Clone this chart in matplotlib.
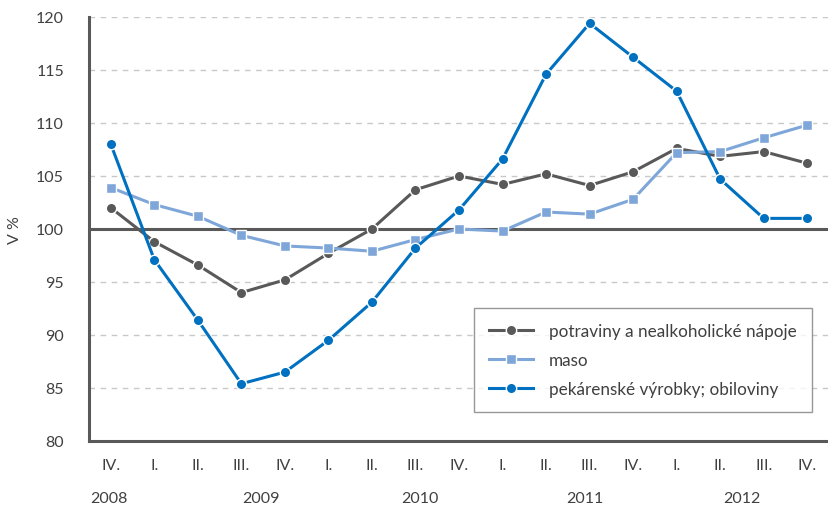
import matplotlib.pyplot as plt
import numpy as np

plt.rcParams['font.family'] = ['Lato', 'DejaVu Sans']

# Data
kvartaly = ["IV.", "I.", "II.", "III.", "IV.", "I.", "II.", "III.", "IV.",
            "I.", "II.", "III.", "IV.", "I.", "II.", "III.", "IV."]
roky = ["2008", "2009", "2010", "2011", "2012"]
roky_pozice = [-0.05, 3.46, 7.1, 10.9, 14.5]

potraviny = [102.0, 98.8, 96.6, 94.0, 95.2, 97.7, 100.0, 103.7, 105.0,
             104.2, 105.2, 104.1, 105.4, 107.6, 106.85, 107.3, 106.2]
maso = [103.9, 102.3, 101.2, 99.4, 98.4, 98.2, 97.9, 99.0, 100.0,
        99.8, 101.6, 101.4, 102.8, 107.2, 107.3, 108.6, 109.8]
pekarenske = [108.0, 97.1, 91.4, 85.4, 86.5, 89.5, 93.1, 98.2, 101.8,
              106.6, 114.6, 119.4, 116.2, 113.0, 104.7, 101.0, 101.0]

c_dark = '#595959'
c_light = '#7ea6d9'
c_blue = '#0070c0'
c_text = '#404040'

fig = plt.figure(figsize=(8.29, 5.06), dpi=100)
ax = fig.add_axes([0.1074, 0.1265, 0.8926, 0.838])

x = np.arange(len(kvartaly))

ax.axhline(100, color=c_dark, linewidth=2.2, zorder=2)
ax.plot(x, potraviny, color=c_dark, linewidth=2.2, marker='o', markersize=7.5,
        markeredgecolor='white', markeredgewidth=1.0, label='potraviny a nealkoholické nápoje', zorder=3)
ax.plot(x, maso, color=c_light, linewidth=2.2, marker='s', markersize=7.5,
        markeredgecolor='white', markeredgewidth=1.0, label='maso', zorder=4)
ax.plot(x, pekarenske, color=c_blue, linewidth=2.2, marker='o', markersize=7.5,
        markeredgecolor='white', markeredgewidth=1.0, label='pekárenské výrobky; obiloviny', zorder=5)

ax.set_xlim(-0.5, len(kvartaly) - 0.5)
ax.set_ylim(80, 120)
ax.set_yticks(range(80, 121, 5))
ax.grid(axis='y', linestyle=(0, (4, 4)), color='#c8c8c8', linewidth=1)
ax.set_axisbelow(True)

ax.set_xticks(x)
ax.set_xticklabels(kvartaly)
ax.tick_params(axis='x', length=0, pad=12, labelsize=11.5, colors=c_text)
ax.tick_params(axis='y', length=0, pad=18, labelsize=11.5, colors=c_text)

for rok, pos in zip(roky, roky_pozice):
    ax.text(pos, -0.135, rok, transform=ax.get_xaxis_transform(), ha='center', va='center',
            fontsize=11.5, color=c_text)

ax.set_ylabel('V %', fontsize=11.5, color=c_text, labelpad=10)

for s in ['top', 'right']:
    ax.spines[s].set_visible(False)
for s in ['left', 'bottom']:
    ax.spines[s].set_color(c_dark)
    ax.spines[s].set_linewidth(2.2)

leg = ax.legend(loc='lower right', bbox_to_anchor=(0.977, 0.068), numpoints=1,
                fontsize=12.3, frameon=True, fancybox=False, edgecolor='#7f7f7f',
                handlelength=2.6, borderpad=0.9, labelspacing=0.75, handletextpad=0.9,
                borderaxespad=0, labelcolor=c_text)
leg.get_frame().set_linewidth(1.0)

fig.savefig('out.png', dpi=100)
